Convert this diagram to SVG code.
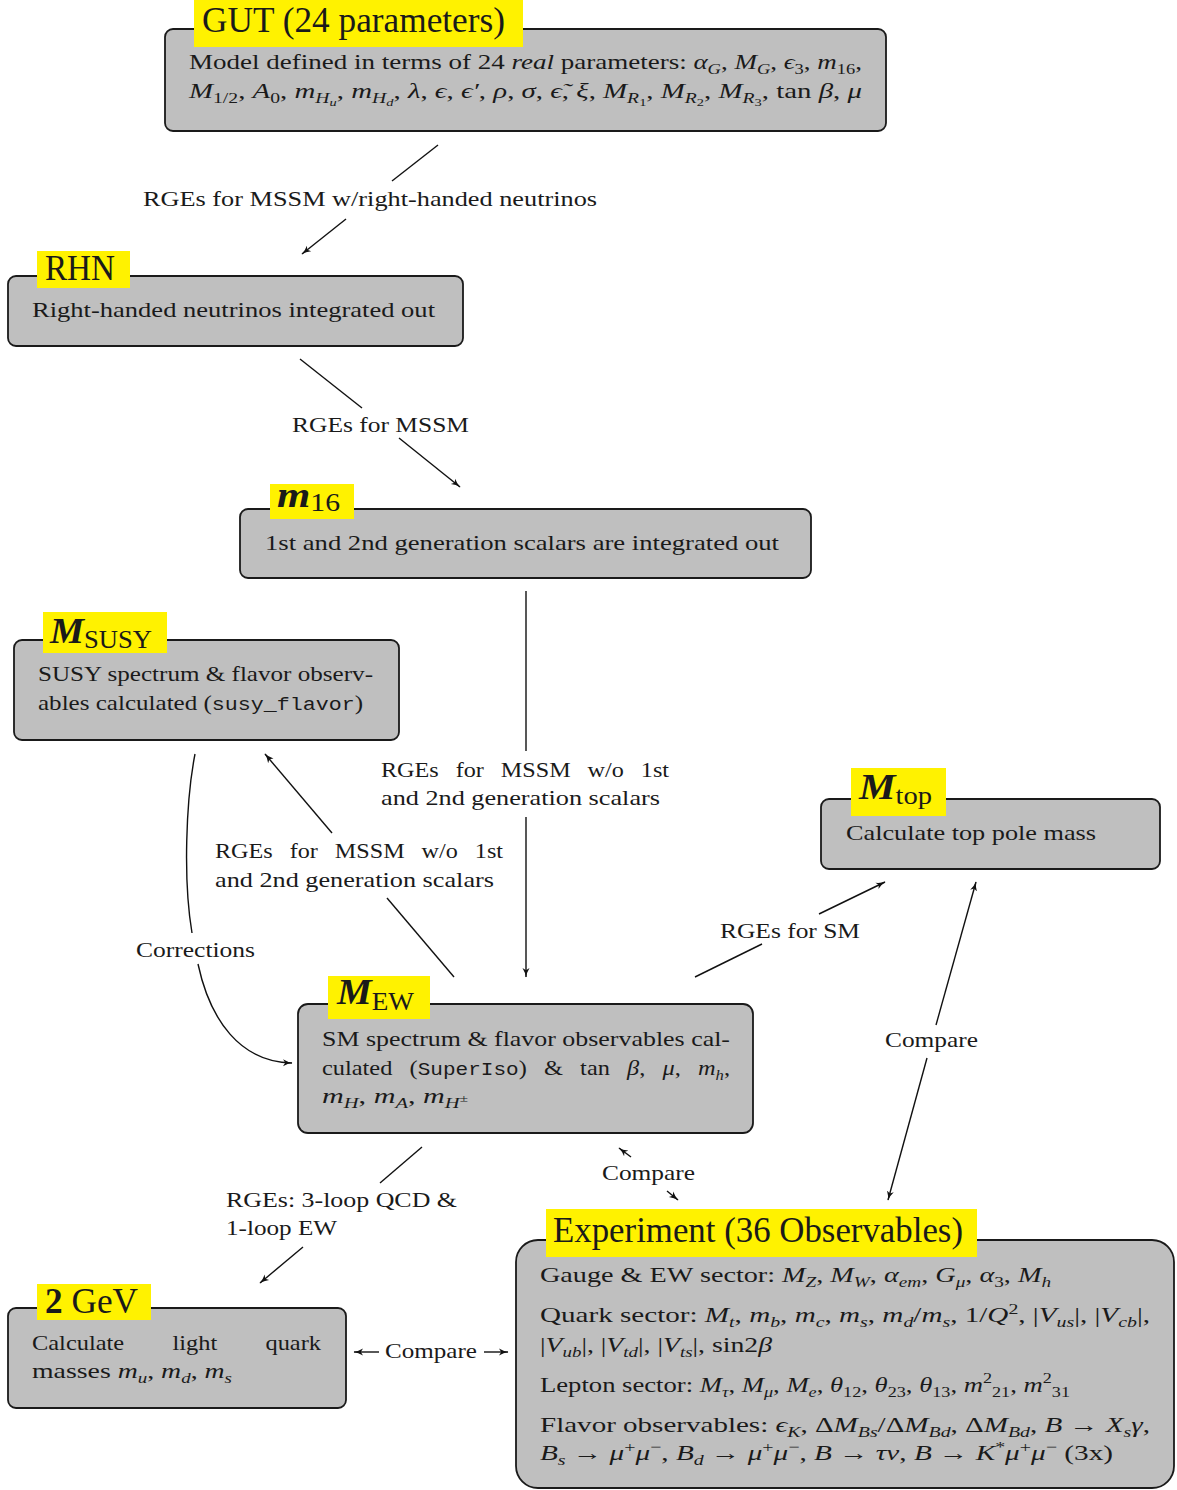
<svg xmlns="http://www.w3.org/2000/svg" width="1177" height="1490" viewBox="0 0 1177 1490">
<style>
.box{fill:#bfbfbf;stroke:#1a1a1a;stroke-width:1.8}
.hl{fill:#fff200}
.tx{font-family:"Liberation Serif","DejaVu Serif",serif;font-size:22px;fill:#1a1a1a}
.ttl{font-size:35px}
.i{font-style:italic}
.b{font-weight:bold}
.bi{font-weight:bold;font-style:italic}
.tt{font-family:"Liberation Mono","DejaVu Sans Mono",monospace;font-size:19px}
.s{font-size:15px}
.ss{font-size:11px}
.ln{fill:none;stroke:#111;stroke-width:1.4}
</style>
<defs>
<marker id="ah" markerWidth="11" markerHeight="9" refX="9" refY="4.5" orient="auto" markerUnits="userSpaceOnUse">
<path d="M0,1 Q4.5,3.8 9.5,4.5 Q4.5,5.2 0,8 L2.2,4.5 Z" fill="#111"/>
</marker>
</defs>

<g id="connectors">
<line class="ln" x1="438" y1="145" x2="392" y2="181"/>
<line class="ln" x1="346" y1="219" x2="302" y2="254" marker-end="url(#ah)"/>
<line class="ln" x1="300" y1="359" x2="362" y2="408"/>
<line class="ln" x1="399" y1="438" x2="460" y2="487" marker-end="url(#ah)"/>
<line class="ln" x1="526" y1="591" x2="526" y2="751"/>
<line class="ln" x1="526" y1="817" x2="526" y2="977" marker-end="url(#ah)"/>
<line class="ln" x1="454" y1="977" x2="387" y2="898"/>
<line class="ln" x1="332" y1="833" x2="265" y2="754" marker-end="url(#ah)"/>
<path class="ln" d="M195,754 C186,800 183,880 192,933"/>
<path class="ln" d="M198,964 C210,1020 240,1062 292,1063" marker-end="url(#ah)"/>
<line class="ln" x1="695" y1="977" x2="762" y2="944"/>
<line class="ln" x1="819" y1="914" x2="885" y2="882" marker-end="url(#ah)"/>
<line class="ln" x1="936" y1="1025" x2="976" y2="882" marker-end="url(#ah)"/>
<line class="ln" x1="927" y1="1058" x2="888" y2="1200" marker-end="url(#ah)"/>
<line class="ln" x1="631" y1="1157" x2="619" y2="1148" marker-end="url(#ah)"/>
<line class="ln" x1="667" y1="1191" x2="678" y2="1200" marker-end="url(#ah)"/>
<line class="ln" x1="422" y1="1147" x2="380" y2="1183"/>
<line class="ln" x1="303" y1="1247" x2="260" y2="1283" marker-end="url(#ah)"/>
<line class="ln" x1="379" y1="1352" x2="354" y2="1352" marker-end="url(#ah)"/>
<line class="ln" x1="484" y1="1352" x2="508" y2="1352" marker-end="url(#ah)"/>
<text class="tx" x="143" y="206" textLength="454" lengthAdjust="spacingAndGlyphs">RGEs for MSSM w/right-handed neutrinos</text>
<text class="tx" x="292" y="432" textLength="177" lengthAdjust="spacingAndGlyphs">RGEs for MSSM</text>
<text class="tx" x="381" y="777" textLength="288" lengthAdjust="spacingAndGlyphs" style="word-spacing:10px">RGEs for MSSM w/o 1st</text>
<text class="tx" x="381" y="805" textLength="279" lengthAdjust="spacingAndGlyphs">and 2nd generation scalars</text>
<text class="tx" x="215" y="858" textLength="288" lengthAdjust="spacingAndGlyphs" style="word-spacing:10px">RGEs for MSSM w/o 1st</text>
<text class="tx" x="215" y="887" textLength="279" lengthAdjust="spacingAndGlyphs">and 2nd generation scalars</text>
<text class="tx" x="136" y="957" textLength="119" lengthAdjust="spacingAndGlyphs">Corrections</text>
<text class="tx" x="720" y="938" textLength="140" lengthAdjust="spacingAndGlyphs">RGEs for SM</text>
<text class="tx" x="885" y="1047" textLength="93" lengthAdjust="spacingAndGlyphs">Compare</text>
<text class="tx" x="602" y="1180" textLength="93" lengthAdjust="spacingAndGlyphs">Compare</text>
<text class="tx" x="226" y="1207" textLength="231" lengthAdjust="spacingAndGlyphs">RGEs: 3-loop QCD &amp;</text>
<text class="tx" x="226" y="1235" textLength="111" lengthAdjust="spacingAndGlyphs">1-loop EW</text>
<text class="tx" x="385" y="1358" textLength="92" lengthAdjust="spacingAndGlyphs">Compare</text>
</g>

<g id="gut">
<rect class="box" x="165" y="29" width="721" height="102" rx="8"/>
<rect class="hl" x="194" y="0" width="329" height="47"/>
<text class="tx ttl" x="202" y="32" textLength="303" lengthAdjust="spacingAndGlyphs">GUT (24 parameters)</text>
<text class="tx" x="189" y="69" textLength="673" lengthAdjust="spacingAndGlyphs">Model defined in terms of 24 <tspan class="i">real</tspan> parameters: <tspan class="i">α</tspan><tspan class="s i" dy="5">G</tspan><tspan dy="-5">, </tspan><tspan class="i">M</tspan><tspan class="s i" dy="5">G</tspan><tspan dy="-5">, </tspan><tspan class="i">ϵ</tspan><tspan class="s" dy="5">3</tspan><tspan dy="-5">, </tspan><tspan class="i">m</tspan><tspan class="s" dy="5">16</tspan><tspan dy="-5">,</tspan></text>
<text class="tx" x="189" y="98" textLength="673" lengthAdjust="spacingAndGlyphs"><tspan class="i">M</tspan><tspan class="s" dy="5">1/2</tspan><tspan dy="-5">, </tspan><tspan class="i">A</tspan><tspan class="s" dy="5">0</tspan><tspan dy="-5">, </tspan><tspan class="i">m</tspan><tspan class="s i" dy="5">H</tspan><tspan class="ss i" dy="3">u</tspan><tspan dy="-8">, </tspan><tspan class="i">m</tspan><tspan class="s i" dy="5">H</tspan><tspan class="ss i" dy="3">d</tspan><tspan dy="-8">, </tspan><tspan class="i">λ</tspan>, <tspan class="i">ϵ</tspan>, <tspan class="i">ϵ′</tspan>, <tspan class="i">ρ</tspan>, <tspan class="i">σ</tspan>, <tspan class="i">ϵ̃</tspan>, <tspan class="i">ξ</tspan>, <tspan class="i">M</tspan><tspan class="s i" dy="5">R</tspan><tspan class="ss" dy="3">1</tspan><tspan dy="-8">, </tspan><tspan class="i">M</tspan><tspan class="s i" dy="5">R</tspan><tspan class="ss" dy="3">2</tspan><tspan dy="-8">, </tspan><tspan class="i">M</tspan><tspan class="s i" dy="5">R</tspan><tspan class="ss" dy="3">3</tspan><tspan dy="-8">, tan </tspan><tspan class="i">β</tspan>, <tspan class="i">μ</tspan></text>
</g>

<g id="rhn">
<rect class="box" x="8" y="276" width="455" height="70" rx="8"/>
<rect class="hl" x="37" y="251" width="93" height="37"/>
<text class="tx ttl" x="45" y="280" textLength="70" lengthAdjust="spacingAndGlyphs">RHN</text>
<text class="tx" x="32" y="317" textLength="403" lengthAdjust="spacingAndGlyphs">Right-handed neutrinos integrated out</text>
</g>

<g id="m16">
<rect class="box" x="240" y="509" width="571" height="69" rx="8"/>
<rect class="hl" x="270" y="484" width="84" height="35"/>
<text class="tx" x="277" y="507" textLength="63" lengthAdjust="spacingAndGlyphs"><tspan class="bi" style="font-size:36px">m</tspan><tspan style="font-size:25px" dy="4">16</tspan></text>
<text class="tx" x="265" y="550" textLength="514" lengthAdjust="spacingAndGlyphs">1st and 2nd generation scalars are integrated out</text>
</g>

<g id="msusy">
<rect class="box" x="14" y="640" width="385" height="100" rx="8"/>
<rect class="hl" x="43" y="612" width="124" height="41"/>
<text class="tx" x="50" y="643" textLength="102" lengthAdjust="spacingAndGlyphs"><tspan class="bi" style="font-size:36px">M</tspan><tspan style="font-size:25px" dy="5">SUSY</tspan></text>
<text class="tx" x="38" y="681" textLength="335" lengthAdjust="spacingAndGlyphs">SUSY spectrum &amp; flavor observ-</text>
<text class="tx" x="38" y="710" textLength="325" lengthAdjust="spacingAndGlyphs">ables calculated (<tspan class="tt">susy_flavor</tspan>)</text>
</g>

<g id="mtop">
<rect class="box" x="821" y="799" width="339" height="70" rx="8"/>
<rect class="hl" x="851" y="768" width="95" height="48"/>
<text class="tx" x="859" y="799" textLength="73" lengthAdjust="spacingAndGlyphs"><tspan class="bi" style="font-size:36px">M</tspan><tspan style="font-size:25px" dy="5">top</tspan></text>
<text class="tx" x="846" y="840" textLength="250" lengthAdjust="spacingAndGlyphs">Calculate top pole mass</text>
</g>

<g id="mew">
<rect class="box" x="298" y="1004" width="455" height="129" rx="10"/>
<rect class="hl" x="328" y="976" width="102" height="43"/>
<text class="tx" x="337" y="1004" textLength="77" lengthAdjust="spacingAndGlyphs"><tspan class="bi" style="font-size:36px">M</tspan><tspan style="font-size:25px" dy="6">EW</tspan></text>
<text class="tx" x="322" y="1046" textLength="408" lengthAdjust="spacingAndGlyphs">SM spectrum &amp; flavor observables cal-</text>
<text class="tx" x="322" y="1075" textLength="408" lengthAdjust="spacingAndGlyphs" style="word-spacing:10px">culated (<tspan class="tt">SuperIso</tspan>) &amp; tan <tspan class="i">β</tspan>, <tspan class="i">μ</tspan>, <tspan class="i">m</tspan><tspan class="s i" dy="5">h</tspan><tspan dy="-5">,</tspan></text>
<text class="tx" x="322" y="1103" textLength="146" lengthAdjust="spacingAndGlyphs"><tspan class="i">m</tspan><tspan class="s i" dy="5">H</tspan><tspan dy="-5">, </tspan><tspan class="i">m</tspan><tspan class="s i" dy="5">A</tspan><tspan dy="-5">, </tspan><tspan class="i">m</tspan><tspan class="s i" dy="5">H</tspan><tspan class="ss" dy="-6">±</tspan></text>
</g>

<g id="gev2">
<rect class="box" x="8" y="1308" width="338" height="100" rx="8"/>
<rect class="hl" x="37" y="1284" width="114" height="36"/>
<text class="tx ttl" x="45" y="1313" textLength="93" lengthAdjust="spacingAndGlyphs"><tspan class="b">2</tspan> GeV</text>
<text class="tx" x="32" y="1350" textLength="289" lengthAdjust="spacingAndGlyphs" style="word-spacing:38px">Calculate light quark</text>
<text class="tx" x="32" y="1378" textLength="200" lengthAdjust="spacingAndGlyphs">masses <tspan class="i">m</tspan><tspan class="s i" dy="5">u</tspan><tspan dy="-5">, </tspan><tspan class="i">m</tspan><tspan class="s i" dy="5">d</tspan><tspan dy="-5">, </tspan><tspan class="i">m</tspan><tspan class="s i" dy="5">s</tspan></text>
</g>

<g id="experiment">
<rect class="box" x="516" y="1240" width="658" height="248" rx="22"/>
<rect class="hl" x="546" y="1209" width="431" height="48"/>
<text class="tx" x="553" y="1242" textLength="410" lengthAdjust="spacingAndGlyphs" style="font-size:36px">Experiment (36 Observables)</text>
<text class="tx" x="540" y="1282" textLength="511" lengthAdjust="spacingAndGlyphs">Gauge &amp; EW sector: <tspan class="i">M</tspan><tspan class="s i" dy="5">Z</tspan><tspan dy="-5">, </tspan><tspan class="i">M</tspan><tspan class="s i" dy="5">W</tspan><tspan dy="-5">, </tspan><tspan class="i">α</tspan><tspan class="s i" dy="5">em</tspan><tspan dy="-5">, </tspan><tspan class="i">G</tspan><tspan class="s i" dy="5">μ</tspan><tspan dy="-5">, </tspan><tspan class="i">α</tspan><tspan class="s" dy="5">3</tspan><tspan dy="-5">, </tspan><tspan class="i">M</tspan><tspan class="s i" dy="5">h</tspan></text>
<text class="tx" x="540" y="1322" textLength="610" lengthAdjust="spacingAndGlyphs">Quark sector: <tspan class="i">M</tspan><tspan class="s i" dy="5">t</tspan><tspan dy="-5">, </tspan><tspan class="i">m</tspan><tspan class="s i" dy="5">b</tspan><tspan dy="-5">, </tspan><tspan class="i">m</tspan><tspan class="s i" dy="5">c</tspan><tspan dy="-5">, </tspan><tspan class="i">m</tspan><tspan class="s i" dy="5">s</tspan><tspan dy="-5">, </tspan><tspan class="i">m</tspan><tspan class="s i" dy="5">d</tspan><tspan dy="-5">/</tspan><tspan class="i">m</tspan><tspan class="s i" dy="5">s</tspan><tspan dy="-5">, 1/</tspan><tspan class="i">Q</tspan><tspan class="s" dy="-8">2</tspan><tspan dy="8">, |</tspan><tspan class="i">V</tspan><tspan class="s i" dy="5">us</tspan><tspan dy="-5">|, |</tspan><tspan class="i">V</tspan><tspan class="s i" dy="5">cb</tspan><tspan dy="-5">|,</tspan></text>
<text class="tx" x="540" y="1352" textLength="232" lengthAdjust="spacingAndGlyphs">|<tspan class="i">V</tspan><tspan class="s i" dy="5">ub</tspan><tspan dy="-5">|, |</tspan><tspan class="i">V</tspan><tspan class="s i" dy="5">td</tspan><tspan dy="-5">|, |</tspan><tspan class="i">V</tspan><tspan class="s i" dy="5">ts</tspan><tspan dy="-5">|, sin2</tspan><tspan class="i">β</tspan></text>
<text class="tx" x="540" y="1392" textLength="530" lengthAdjust="spacingAndGlyphs">Lepton sector: <tspan class="i">M</tspan><tspan class="s i" dy="5">τ</tspan><tspan dy="-5">, </tspan><tspan class="i">M</tspan><tspan class="s i" dy="5">μ</tspan><tspan dy="-5">, </tspan><tspan class="i">M</tspan><tspan class="s i" dy="5">e</tspan><tspan dy="-5">, </tspan><tspan class="i">θ</tspan><tspan class="s" dy="5">12</tspan><tspan dy="-5">, </tspan><tspan class="i">θ</tspan><tspan class="s" dy="5">23</tspan><tspan dy="-5">, </tspan><tspan class="i">θ</tspan><tspan class="s" dy="5">13</tspan><tspan dy="-5">, </tspan><tspan class="i">m</tspan><tspan class="s" dy="-9">2</tspan><tspan class="s" dy="14">21</tspan><tspan dy="-5">, </tspan><tspan class="i">m</tspan><tspan class="s" dy="-9">2</tspan><tspan class="s" dy="14">31</tspan></text>
<text class="tx" x="540" y="1432" textLength="610" lengthAdjust="spacingAndGlyphs">Flavor observables: <tspan class="i">ϵ</tspan><tspan class="s i" dy="5">K</tspan><tspan dy="-5">, Δ</tspan><tspan class="i">M</tspan><tspan class="s i" dy="5">Bs</tspan><tspan dy="-5">/Δ</tspan><tspan class="i">M</tspan><tspan class="s i" dy="5">Bd</tspan><tspan dy="-5">, Δ</tspan><tspan class="i">M</tspan><tspan class="s i" dy="5">Bd</tspan><tspan dy="-5">, </tspan><tspan class="i">B</tspan> → <tspan class="i">X</tspan><tspan class="s i" dy="5">s</tspan><tspan class="i" dy="-5">γ</tspan>,</text>
<text class="tx" x="540" y="1460" textLength="573" lengthAdjust="spacingAndGlyphs"><tspan class="i">B</tspan><tspan class="s i" dy="5">s</tspan><tspan dy="-5"> → </tspan><tspan class="i">μ</tspan><tspan class="s" dy="-8">+</tspan><tspan class="i" dy="8">μ</tspan><tspan class="s" dy="-8">−</tspan><tspan dy="8">, </tspan><tspan class="i">B</tspan><tspan class="s i" dy="5">d</tspan><tspan dy="-5"> → </tspan><tspan class="i">μ</tspan><tspan class="s" dy="-8">+</tspan><tspan class="i" dy="8">μ</tspan><tspan class="s" dy="-8">−</tspan><tspan dy="8">, </tspan><tspan class="i">B</tspan> → <tspan class="i">τν</tspan>, <tspan class="i">B</tspan> → <tspan class="i">K</tspan><tspan class="s" dy="-8">*</tspan><tspan class="i" dy="8">μ</tspan><tspan class="s" dy="-8">+</tspan><tspan class="i" dy="8">μ</tspan><tspan class="s" dy="-8">−</tspan><tspan dy="8"> (3x)</tspan></text>
</g>
</svg>
